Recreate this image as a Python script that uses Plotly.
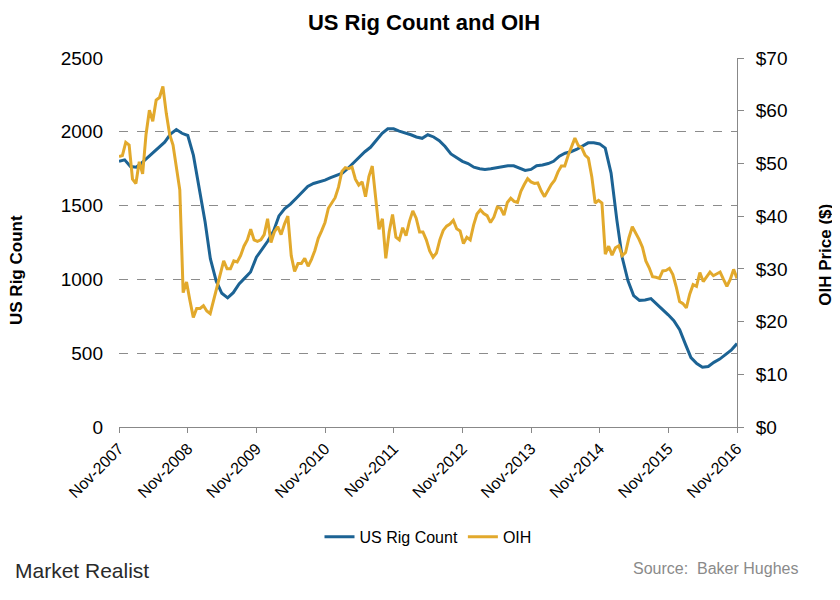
import pandas as pd
import plotly.graph_objects as go

# US rig count, monthly from Nov-2007 to Nov-2016
rig_start = "2007-11-01"
rig_count = [
    1800, 1810, 1765, 1760, 1790, 1825, 1855, 1895, 1930, 1985, 2015, 1990,
    1975, 1840, 1610, 1390, 1140, 990, 906, 875, 910, 970, 1010, 1050,
    1150, 1200, 1260, 1330, 1430, 1480, 1510, 1550, 1590, 1630, 1650, 1660,
    1673, 1690, 1705, 1720, 1750, 1790, 1830, 1865, 1895, 1945, 1990, 2020,
    2020, 2005, 1995, 1980, 1965, 1956, 1980, 1965, 1940, 1900, 1850, 1825,
    1800, 1785, 1760, 1750, 1745, 1750, 1755, 1760, 1770, 1770, 1755, 1738,
    1745, 1770, 1775, 1785, 1800, 1835, 1855, 1865, 1880, 1900, 1925, 1925,
    1918, 1890, 1720, 1400, 1150, 990, 890, 858, 860, 870, 835, 795,
    760, 720, 660, 560, 470, 430, 405, 410, 438, 460, 490, 520,
    565,
]

# OIH price, evenly spaced samples from Nov-2007 to Nov-2016
oih_start = "2007-11-01"
oih_end = "2016-11-01"
oih_price = [
    51.3, 51.5, 54.0, 53.5, 47.0, 46.2, 50.3, 48.0, 55.5, 60.1,
    58.0, 62.0, 62.5, 64.6, 59.5, 55.5, 53.5, 49.0, 45.0, 25.5,
    27.5, 24.0, 20.8, 22.5, 22.5, 23.0, 22.0, 21.5, 24.0, 26.5,
    29.5, 31.5, 30.0, 30.0, 31.5, 31.3, 32.5, 34.3, 35.5, 37.5,
    35.5, 35.2, 35.5, 36.5, 39.5, 35.0, 37.0, 38.0, 36.5, 38.5,
    40.0, 32.5, 29.5, 31.0, 31.0, 32.0, 30.5, 31.8, 33.5, 35.8,
    37.2, 38.8, 41.5, 42.5, 43.5, 45.5, 48.5, 49.2, 49.0, 49.3,
    47.0, 45.9, 46.5, 43.7, 47.5, 49.5, 44.0, 37.5, 39.5, 32.0,
    37.0, 40.3, 36.0, 35.5, 37.8, 36.3, 39.0, 41.0, 39.6, 37.0,
    37.0, 35.5, 33.4, 32.2, 33.0, 35.5, 37.3, 38.1, 38.5, 39.2,
    37.6, 37.2, 34.8, 36.0, 35.5, 38.3, 40.4, 41.2, 40.5, 40.1,
    38.8, 39.8, 41.7, 41.5, 40.2, 42.6, 43.4, 42.8, 42.6, 44.7,
    46.0, 47.1, 46.5, 46.2, 46.3, 44.8, 43.7, 45.0, 46.0, 46.8,
    48.4, 49.5, 49.5, 51.5, 53.0, 54.8, 53.4, 53.0, 51.6, 51.0,
    47.5, 42.5, 43.0, 42.5, 32.8, 34.3, 32.6, 34.0, 34.4, 32.5,
    33.1, 35.9, 38.0, 36.9, 35.6, 34.1, 31.5, 30.2, 28.5, 28.4,
    28.2, 29.6, 29.7, 30.1, 28.9, 26.6, 23.8, 23.4, 22.6, 25.2,
    27.0, 26.7, 29.3, 27.6, 28.4, 29.4, 28.7, 29.1, 29.4, 28.0,
    26.7, 28.0, 29.9, 28.2,
]

left_ticks = [0, 500, 1000, 1500, 2000, 2500]
right_ticks = [0, 10, 20, 30, 40, 50, 60, 70]
right_tick_text = ["$0", "$10", "$20", "$30", "$40", "$50", "$60", "$70"]
x_tick_dates = [f"{y}-11-01" for y in range(2007, 2017)]
x_tick_text = [f"Nov-{y}" for y in range(2007, 2017)]

rig_dates = pd.date_range(rig_start, periods=len(rig_count), freq="MS")
oih_dates = pd.date_range(oih_start, oih_end, periods=len(oih_price))

BLUE = "#1c6394"
GOLD = "#e2a92c"
FONT = "Liberation Sans, Arial, sans-serif"
NARROW = "Liberation Sans Narrow, Arial Narrow, Liberation Sans, sans-serif"

fig = go.Figure()
fig.add_trace(go.Scatter(x=rig_dates, y=rig_count, name="US Rig Count",
                         mode="lines", line=dict(color=BLUE, width=3)))
fig.add_trace(go.Scatter(x=oih_dates, y=oih_price, name="OIH", yaxis="y2",
                         mode="lines", line=dict(color=GOLD, width=3)))

fig.update_layout(
    width=832, height=592,
    margin=dict(l=111, r=103, t=50, b=173),
    paper_bgcolor="white", plot_bgcolor="white",
    font=dict(family=FONT, color="black"),
    title=dict(text="<b>US Rig Count and OIH</b>", x=0.5, xanchor="center",
               y=0.976, yanchor="middle", font=dict(size=22, family=FONT)),
    xaxis=dict(
        type="date", range=["2007-11-01", "2016-11-01"],
        tickvals=x_tick_dates, ticktext=x_tick_text, tickangle=-45,
        tickfont=dict(size=16), showgrid=False, showline=True,
        linecolor="#888888", linewidth=1, ticks="outside", ticklen=5,
        tickcolor="#888888",
    ),
    yaxis=dict(
        range=[0, 2500], tickvals=left_ticks, tickfont=dict(size=19),
        showgrid=True, gridcolor="#8c8c8c", griddash="dash", gridwidth=1,
        showline=False, zeroline=False, ticks="", ticklabelstandoff=15,
    ),
    yaxis2=dict(
        range=[0, 70], tickvals=right_ticks, ticktext=right_tick_text,
        overlaying="y", side="right", tickfont=dict(size=19), showgrid=False,
        showline=True, linecolor="#888888", linewidth=1, ticks="outside",
        ticklen=6, tickcolor="#888888", zeroline=False, ticklabelstandoff=8,
    ),
    legend=dict(orientation="h", x=0.5, xanchor="center", y=-0.298,
                yanchor="middle", font=dict(size=16, family=NARROW),
                itemwidth=30, tracegroupgap=0),
    showlegend=True,
)

fig.add_annotation(text="<b>US Rig Count</b>", textangle=-90, xref="paper", yref="paper",
                   x=-0.167, y=0.425, showarrow=False, font=dict(size=17, family=FONT),
                   xanchor="center", yanchor="middle")
fig.add_annotation(text="<b>OIH Price ($)</b>", textangle=-90, xref="paper", yref="paper",
                   x=1.142, y=0.466, showarrow=False, font=dict(size=17, family=FONT),
                   xanchor="center", yanchor="middle")
fig.add_annotation(text="Market Realist", xref="paper", yref="paper",
                   x=-0.172, y=-0.39, xanchor="left", yanchor="middle", showarrow=False,
                   font=dict(size=21, family=NARROW, color="#2a2a2a"))
fig.add_annotation(text="Source:  Baker Hughes", xref="paper", yref="paper",
                   x=1.102, y=-0.383, xanchor="right", yanchor="middle", showarrow=False,
                   font=dict(size=16, family=NARROW, color="#8a8a8a"))

fig.write_html("out.html")
